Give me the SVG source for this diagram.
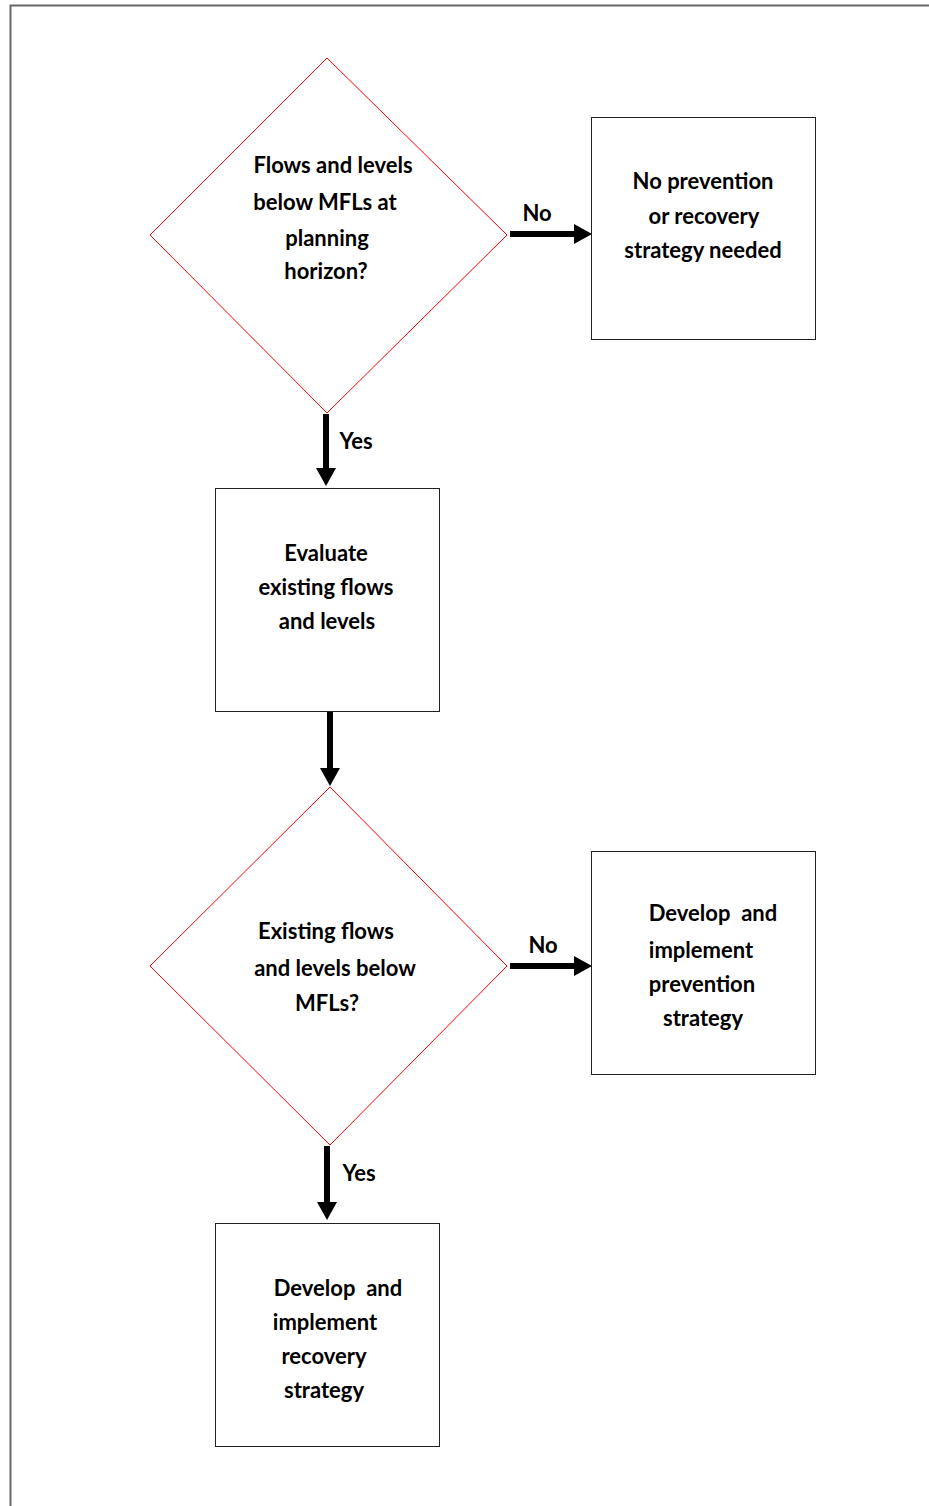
<svg xmlns="http://www.w3.org/2000/svg" width="929" height="1506" viewBox="0 0 929 1506">
<style>
.t{font-family:Lato,"Open Sans","Liberation Sans",sans-serif;font-weight:bold;font-size:22px;fill:#000;text-anchor:middle}
.box{fill:#fff;stroke:#222;stroke-width:1}
.dia{fill:#fff;stroke:#ff0000;stroke-width:1}
.sh{stroke:#000;stroke-width:6;fill:none}
.hd{fill:#000}
</style>
<rect width="929" height="1506" fill="#fff"/>
<path d="M10.5,1506 V5.5 H929" fill="none" stroke="#666" stroke-width="2"/>
<g id="n1"><polygon class="dia" points="327,58 507,235 327,413 150,235"/>
<text class="t" x="333" y="173">Flows and levels</text>
<text class="t" x="325" y="210">below MFLs at</text>
<text class="t" x="327" y="246">planning</text>
<text class="t" x="326" y="279">horizon?</text></g>
<g id="n2"><rect class="box" x="591.5" y="117.5" width="224" height="222"/>
<text class="t" x="703" y="189">No prevention</text>
<text class="t" x="704" y="224">or recovery</text>
<text class="t" x="703" y="258">strategy needed</text></g>
<g id="n3"><rect class="box" x="215.5" y="488.5" width="224" height="223"/>
<text class="t" x="326" y="561">Evaluate</text>
<text class="t" x="326" y="595">existing flows</text>
<text class="t" x="327" y="629">and levels</text></g>
<g id="n4"><polygon class="dia" points="330,787 507,966 330,1145 150,966"/>
<text class="t" x="326" y="939">Existing flows</text>
<text class="t" x="335" y="976">and levels below</text>
<text class="t" x="327" y="1011">MFLs?</text></g>
<g id="n5"><rect class="box" x="591.5" y="851.5" width="224" height="223"/>
<text class="t" x="713" y="921" xml:space="preserve">Develop  and</text>
<text class="t" x="701" y="958">implement</text>
<text class="t" x="702" y="992">prevention</text>
<text class="t" x="703" y="1026">strategy</text></g>
<g id="n6"><rect class="box" x="215.5" y="1223.5" width="224" height="223"/>
<text class="t" x="338" y="1296" xml:space="preserve">Develop  and</text>
<text class="t" x="325" y="1330">implement</text>
<text class="t" x="324" y="1364">recovery</text>
<text class="t" x="324" y="1398">strategy</text></g>
<g id="connectors">
<line class="sh" x1="510" y1="234" x2="576" y2="234"/><polygon class="hd" points="574,224 592,234 574,244"/>
<text class="t" x="537" y="221">No</text>
<line class="sh" x1="326" y1="414" x2="326" y2="470"/><polygon class="hd" points="316,468 326,486 336,468"/>
<text class="t" x="356" y="449">Yes</text>
<line class="sh" x1="330" y1="712" x2="330" y2="770"/><polygon class="hd" points="320,768 330,786 340,768"/>
<line class="sh" x1="510" y1="966" x2="576" y2="966"/><polygon class="hd" points="574,956 592,966 574,976"/>
<text class="t" x="543" y="953">No</text>
<line class="sh" x1="327" y1="1146" x2="327" y2="1204"/><polygon class="hd" points="317,1202 327,1220 337,1202"/>
<text class="t" x="359" y="1181">Yes</text>
</g>
</svg>
